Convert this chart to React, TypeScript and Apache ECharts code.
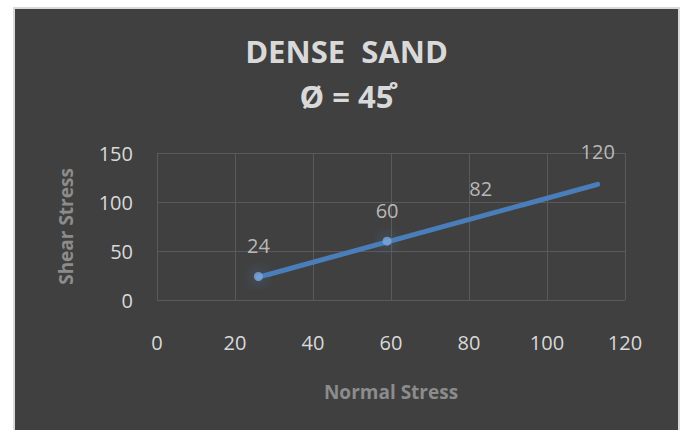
import React, { useEffect, useRef } from "react";
import * as echarts from "echarts";

const normalStress = [26, 59, 83, 113];
const shearStress = [24, 60, 82, 120];
const showMarker = [true, true, false, false];
const titleLines = ["DENSE  SAND", "Ø = 45̊"];
const xAxisName = "Normal Stress";
const yAxisName = "Shear Stress";

const FONT = "'Open Sans', 'Noto Sans', sans-serif";

function linearTrend(xs: number[], ys: number[]) {
  const n = xs.length;
  const mx = xs.reduce((a, b) => a + b, 0) / n;
  const my = ys.reduce((a, b) => a + b, 0) / n;
  let sxy = 0;
  let sxx = 0;
  for (let i = 0; i < n; i++) {
    sxy += (xs[i] - mx) * (ys[i] - my);
    sxx += (xs[i] - mx) * (xs[i] - mx);
  }
  const slope = sxy / sxx;
  const icpt = my - slope * mx;
  const x0 = Math.min(...xs);
  const x1 = Math.max(...xs);
  return [
    [x0, icpt + slope * x0],
    [x1, icpt + slope * x1],
  ];
}

export default function App() {
  const ref = useRef<HTMLDivElement>(null);
  useEffect(() => {
    if (!ref.current) return;
    const chart = echarts.init(ref.current, null, { renderer: "svg" });
    const data = normalStress.map((x, i) =>
      showMarker[i]
        ? {
            value: [x, shearStress[i]],
            symbolSize: 9,
            itemStyle: { color: "#7aa7dd", shadowBlur: 14, shadowColor: "rgba(79,129,189,1)" },
          }
        : {
            value: [x, shearStress[i]],
            symbolSize: 0,
            label: { distance: 21 },
          }
    );
    chart.setOption({
      animation: false,
      backgroundColor: "#404040",
      title: {
        text: titleLines.join("\n"),
        left: "center",
        top: 14,
        textStyle: {
          color: "#d9d9d9",
          fontFamily: FONT,
          fontWeight: "bold",
          fontSize: 31,
          lineHeight: 45,
        },
      },
      grid: { left: 142, right: 53, top: 144, bottom: 130, containLabel: false },
      xAxis: {
        type: "value",
        min: 0,
        max: 120,
        interval: 20,
        name: xAxisName,
        nameLocation: "middle",
        nameGap: 82,
        nameTextStyle: { color: "#8c8c8c", fontFamily: FONT, fontWeight: "bold", fontSize: 19 },
        axisLine: { show: false },
        axisTick: { show: false },
        axisLabel: { color: "#d9d9d9", fontFamily: FONT, fontSize: 20, margin: 32 },
        splitLine: { show: true, lineStyle: { color: "#5a5a5a", width: 1 } },
      },
      yAxis: {
        type: "value",
        min: 0,
        max: 150,
        interval: 50,
        name: yAxisName,
        nameLocation: "middle",
        nameGap: 82,
        nameRotate: 90,
        nameTextStyle: { color: "#8c8c8c", fontFamily: FONT, fontWeight: "bold", fontSize: 19 },
        axisLine: { show: false },
        axisTick: { show: false },
        axisLabel: { color: "#d9d9d9", fontFamily: FONT, fontSize: 20, margin: 24 },
        splitLine: { show: true, lineStyle: { color: "#5a5a5a", width: 1 } },
      },
      series: [
        {
          type: "line",
          data: linearTrend(normalStress, shearStress),
          symbol: "none",
          lineStyle: { color: "#4a7ebb", width: 5, cap: "round" },
          silent: true,
          z: 2,
        },
        {
          type: "scatter",
          data,
          symbol: "circle",
          itemStyle: { color: "#7aa7dd" },
          label: {
            show: true,
            position: "top",
            distance: 16,
            color: "#d9d9d9",
            fontFamily: FONT,
            fontSize: 20,
            formatter: (p: any) => String(p.value[1]),
          },
          z: 3,
        },
      ],
    });
    return () => chart.dispose();
  }, []);
  return (
    <div
      style={{
        position: "fixed",
        left: 13,
        top: 7,
        width: 663,
        height: 421,
        border: "2px solid #d9d9d9",
        borderBottom: "none",
        background: "#404040",
      }}
    >
      <div ref={ref} style={{ width: 663, height: 421 }} />
    </div>
  );
}
